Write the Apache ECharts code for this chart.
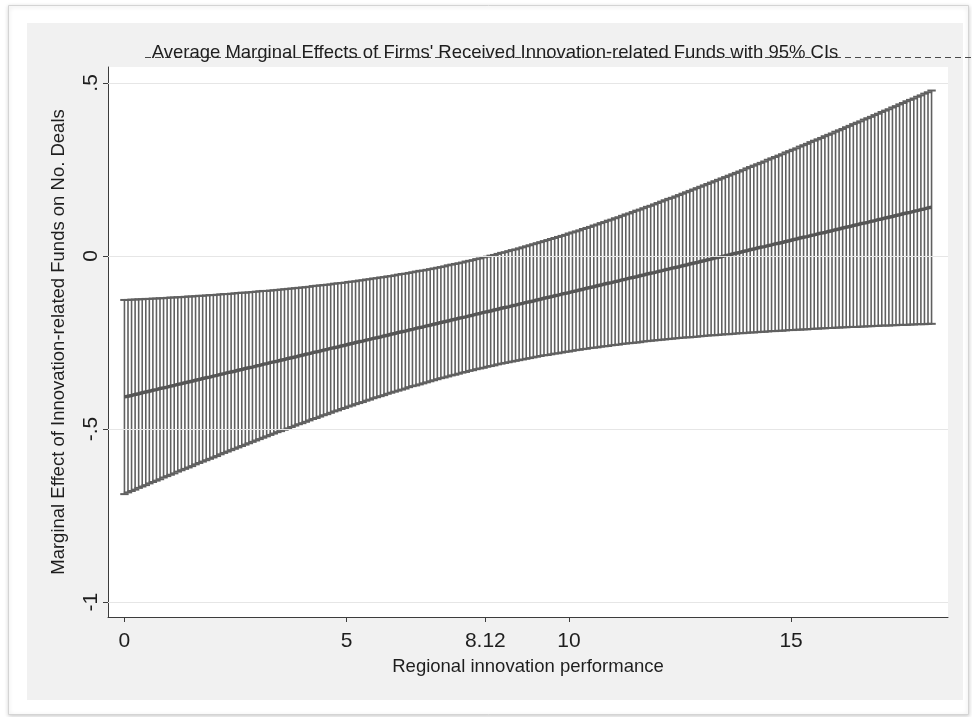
<!DOCTYPE html>
<html>
<head>
<meta charset="utf-8">
<title>Average Marginal Effects</title>
<script src="https://cdn.jsdelivr.net/npm/echarts@6/dist/echarts.min.js"></script>
<style>
  html, body { margin: 0; padding: 0; background: #ffffff; }
  #chart { width: 972px; height: 717px; }
</style>
</head>
<body>
<div id="chart"></div>
<script>
// Evaluation points of regional innovation performance
const xValues = [
  0,0.08,0.16,0.24,0.32,
  0.4,0.48,0.56,0.64,0.72,
  0.8,0.88,0.96,1.04,1.12,
  1.2,1.28,1.36,1.44,1.52,
  1.6,1.68,1.76,1.84,1.92,
  2,2.08,2.16,2.24,2.32,
  2.4,2.48,2.56,2.64,2.72,
  2.8,2.88,2.96,3.04,3.12,
  3.2,3.28,3.36,3.44,3.52,
  3.6,3.68,3.76,3.84,3.92,
  4,4.08,4.16,4.24,4.32,
  4.4,4.48,4.56,4.64,4.72,
  4.8,4.88,4.96,5.04,5.12,
  5.2,5.28,5.36,5.44,5.52,
  5.6,5.68,5.76,5.84,5.92,
  6,6.08,6.16,6.24,6.32,
  6.4,6.48,6.56,6.64,6.72,
  6.8,6.88,6.96,7.04,7.12,
  7.2,7.28,7.36,7.44,7.52,
  7.6,7.68,7.76,7.84,7.92,
  8,8.08,8.16,8.24,8.32,
  8.4,8.48,8.56,8.64,8.72,
  8.8,8.88,8.96,9.04,9.12,
  9.2,9.28,9.36,9.44,9.52,
  9.6,9.68,9.76,9.84,9.92,
  10,10.08,10.16,10.24,10.32,
  10.4,10.48,10.56,10.64,10.72,
  10.8,10.88,10.96,11.04,11.12,
  11.2,11.28,11.36,11.44,11.52,
  11.6,11.68,11.76,11.84,11.92,
  12,12.08,12.16,12.24,12.32,
  12.4,12.48,12.56,12.64,12.72,
  12.8,12.88,12.96,13.04,13.12,
  13.2,13.28,13.36,13.44,13.52,
  13.6,13.68,13.76,13.84,13.92,
  14,14.08,14.16,14.24,14.32,
  14.4,14.48,14.56,14.64,14.72,
  14.8,14.88,14.96,15.04,15.12,
  15.2,15.28,15.36,15.44,15.52,
  15.6,15.68,15.76,15.84,15.92,
  16,16.08,16.16,16.24,16.32,
  16.4,16.48,16.56,16.64,16.72,
  16.8,16.88,16.96,17.04,17.12,
  17.2,17.28,17.36,17.44,17.52,
  17.6,17.68,17.76,17.84,17.92,
  18,18.08,18.16
];

// Average marginal effect at each point
const margins = [
  -0.407,-0.405,-0.403,-0.400,-0.398,
  -0.395,-0.393,-0.391,-0.388,-0.386,
  -0.383,-0.381,-0.379,-0.376,-0.374,
  -0.371,-0.369,-0.366,-0.364,-0.362,
  -0.359,-0.357,-0.354,-0.352,-0.350,
  -0.347,-0.345,-0.342,-0.340,-0.337,
  -0.335,-0.333,-0.330,-0.328,-0.325,
  -0.323,-0.321,-0.318,-0.316,-0.313,
  -0.311,-0.308,-0.306,-0.304,-0.301,
  -0.299,-0.296,-0.294,-0.292,-0.289,
  -0.287,-0.284,-0.282,-0.279,-0.277,
  -0.275,-0.272,-0.270,-0.267,-0.265,
  -0.263,-0.260,-0.258,-0.255,-0.253,
  -0.250,-0.248,-0.246,-0.243,-0.241,
  -0.238,-0.236,-0.234,-0.231,-0.229,
  -0.226,-0.224,-0.221,-0.219,-0.217,
  -0.214,-0.212,-0.209,-0.207,-0.205,
  -0.202,-0.200,-0.197,-0.195,-0.192,
  -0.190,-0.188,-0.185,-0.183,-0.180,
  -0.178,-0.176,-0.173,-0.171,-0.168,
  -0.166,-0.163,-0.161,-0.159,-0.156,
  -0.154,-0.151,-0.149,-0.147,-0.144,
  -0.142,-0.139,-0.137,-0.134,-0.132,
  -0.130,-0.127,-0.125,-0.122,-0.120,
  -0.118,-0.115,-0.113,-0.110,-0.108,
  -0.106,-0.103,-0.101,-0.098,-0.096,
  -0.093,-0.091,-0.089,-0.086,-0.084,
  -0.081,-0.079,-0.077,-0.074,-0.072,
  -0.069,-0.067,-0.064,-0.062,-0.060,
  -0.057,-0.055,-0.052,-0.050,-0.048,
  -0.045,-0.043,-0.040,-0.038,-0.035,
  -0.033,-0.031,-0.028,-0.026,-0.023,
  -0.021,-0.019,-0.016,-0.014,-0.011,
  -0.009,-0.006,-0.004,-0.002,0.001,
  0.003,0.006,0.008,0.010,0.013,
  0.015,0.018,0.020,0.023,0.025,
  0.027,0.030,0.032,0.035,0.037,
  0.039,0.042,0.044,0.047,0.049,
  0.052,0.054,0.056,0.059,0.061,
  0.064,0.066,0.068,0.071,0.073,
  0.076,0.078,0.081,0.083,0.085,
  0.088,0.090,0.093,0.095,0.097,
  0.100,0.102,0.105,0.107,0.110,
  0.112,0.114,0.117,0.119,0.122,
  0.124,0.126,0.129,0.131,0.134,
  0.136,0.139,0.141
];

// Lower bound of the 95% confidence interval
const ciLow = [
  -0.688,-0.683,-0.679,-0.675,-0.670,
  -0.666,-0.662,-0.657,-0.653,-0.649,
  -0.645,-0.640,-0.636,-0.632,-0.628,
  -0.623,-0.619,-0.615,-0.611,-0.607,
  -0.602,-0.598,-0.594,-0.590,-0.586,
  -0.582,-0.578,-0.573,-0.569,-0.565,
  -0.561,-0.557,-0.553,-0.549,-0.545,
  -0.541,-0.537,-0.533,-0.529,-0.525,
  -0.521,-0.517,-0.513,-0.509,-0.506,
  -0.502,-0.498,-0.494,-0.490,-0.486,
  -0.483,-0.479,-0.475,-0.471,-0.468,
  -0.464,-0.460,-0.457,-0.453,-0.449,
  -0.446,-0.442,-0.439,-0.435,-0.432,
  -0.428,-0.425,-0.422,-0.418,-0.415,
  -0.411,-0.408,-0.405,-0.402,-0.398,
  -0.395,-0.392,-0.389,-0.386,-0.383,
  -0.379,-0.376,-0.374,-0.371,-0.368,
  -0.365,-0.362,-0.359,-0.356,-0.353,
  -0.351,-0.348,-0.345,-0.343,-0.340,
  -0.337,-0.335,-0.332,-0.330,-0.327,
  -0.325,-0.323,-0.320,-0.318,-0.316,
  -0.313,-0.311,-0.309,-0.307,-0.305,
  -0.303,-0.301,-0.299,-0.297,-0.295,
  -0.293,-0.291,-0.289,-0.287,-0.286,
  -0.284,-0.282,-0.281,-0.279,-0.277,
  -0.276,-0.274,-0.272,-0.271,-0.269,
  -0.268,-0.266,-0.265,-0.264,-0.262,
  -0.261,-0.260,-0.258,-0.257,-0.256,
  -0.254,-0.253,-0.252,-0.251,-0.250,
  -0.249,-0.247,-0.246,-0.245,-0.244,
  -0.243,-0.242,-0.241,-0.240,-0.239,
  -0.238,-0.237,-0.236,-0.235,-0.235,
  -0.234,-0.233,-0.232,-0.231,-0.230,
  -0.229,-0.229,-0.228,-0.227,-0.226,
  -0.226,-0.225,-0.224,-0.223,-0.223,
  -0.222,-0.221,-0.221,-0.220,-0.219,
  -0.219,-0.218,-0.217,-0.217,-0.216,
  -0.216,-0.215,-0.214,-0.214,-0.213,
  -0.213,-0.212,-0.212,-0.211,-0.210,
  -0.210,-0.209,-0.209,-0.208,-0.208,
  -0.207,-0.207,-0.206,-0.206,-0.205,
  -0.205,-0.205,-0.204,-0.204,-0.203,
  -0.203,-0.202,-0.202,-0.201,-0.201,
  -0.201,-0.200,-0.200,-0.199,-0.199,
  -0.199,-0.198,-0.198,-0.197,-0.197,
  -0.197,-0.196,-0.196
];

// Upper bound of the 95% confidence interval
const ciHigh = [
  -0.127,-0.127,-0.126,-0.126,-0.125,
  -0.125,-0.124,-0.124,-0.123,-0.123,
  -0.122,-0.122,-0.121,-0.120,-0.120,
  -0.119,-0.119,-0.118,-0.117,-0.117,
  -0.116,-0.115,-0.115,-0.114,-0.113,
  -0.113,-0.112,-0.111,-0.110,-0.110,
  -0.109,-0.108,-0.107,-0.106,-0.106,
  -0.105,-0.104,-0.103,-0.102,-0.101,
  -0.101,-0.100,-0.099,-0.098,-0.097,
  -0.096,-0.095,-0.094,-0.093,-0.092,
  -0.091,-0.090,-0.089,-0.087,-0.086,
  -0.085,-0.084,-0.083,-0.082,-0.080,
  -0.079,-0.078,-0.077,-0.075,-0.074,
  -0.073,-0.071,-0.070,-0.068,-0.067,
  -0.065,-0.064,-0.062,-0.061,-0.059,
  -0.058,-0.056,-0.054,-0.052,-0.051,
  -0.049,-0.047,-0.045,-0.043,-0.042,
  -0.040,-0.038,-0.036,-0.034,-0.032,
  -0.030,-0.027,-0.025,-0.023,-0.021,
  -0.019,-0.016,-0.014,-0.012,-0.009,
  -0.007,-0.004,-0.002,0.001,0.003,
  0.006,0.009,0.011,0.014,0.017,
  0.019,0.022,0.025,0.028,0.031,
  0.034,0.037,0.040,0.043,0.046,
  0.049,0.052,0.055,0.058,0.061,
  0.065,0.068,0.071,0.074,0.078,
  0.081,0.084,0.088,0.091,0.095,
  0.098,0.102,0.105,0.109,0.112,
  0.116,0.120,0.123,0.127,0.131,
  0.134,0.138,0.142,0.145,0.149,
  0.153,0.157,0.161,0.165,0.168,
  0.172,0.176,0.180,0.184,0.188,
  0.192,0.196,0.200,0.204,0.208,
  0.212,0.216,0.220,0.224,0.228,
  0.232,0.236,0.240,0.244,0.248,
  0.253,0.257,0.261,0.265,0.269,
  0.273,0.278,0.282,0.286,0.290,
  0.294,0.299,0.303,0.307,0.311,
  0.316,0.320,0.324,0.329,0.333,
  0.337,0.341,0.346,0.350,0.354,
  0.359,0.363,0.367,0.372,0.376,
  0.381,0.385,0.389,0.394,0.398,
  0.402,0.407,0.411,0.416,0.420,
  0.424,0.429,0.433,0.438,0.442,
  0.447,0.451,0.455,0.460,0.464,
  0.469,0.473,0.478
];

// Axis ticks and their printed labels
const xTicks = [0, 5, 8.12, 10, 15];
const xTickLabels = ['0', '5', '8.12', '10', '15'];
const yTicks = [-1, -0.5, 0, 0.5];
const yTickLabels = ['-1', '-.5', '0', '.5'];

const titleText = "Average Marginal Effects of Firms' Received Innovation-related Funds with 95% CIs";
const xTitle = 'Regional innovation performance';
const yTitle = 'Marginal Effect of Innovation-related Funds on No. Deals';

const FONT = "'Liberation Sans', Arial, Helvetica, sans-serif";
const INK = '#1e1e1e';
const AXIS = '#3c3c3c';
const SPIKE = '#606060';
const MID = '#555555';

const ciTable = xValues.map((x, i) => [x, ciLow[i], ciHigh[i]]);
const midTable = xValues.map((x, i) => [x, margins[i]]);

// Capped spike: vertical line between the bounds with short caps at both ends
function renderCappedSpike(params, api) {
  const x = api.value(0);
  const top = api.coord([x, api.value(2)]);
  const bot = api.coord([x, api.value(1)]);
  const hw = 4.2;
  const style = { stroke: SPIKE, lineWidth: 1.6 };
  const capStyle = { stroke: SPIKE, lineWidth: 2 };
  return {
    type: 'group',
    children: [
      { type: 'line', shape: { x1: top[0], y1: top[1], x2: bot[0], y2: bot[1] }, style },
      { type: 'line', shape: { x1: top[0] - hw, y1: top[1], x2: top[0] + hw, y2: top[1] }, style: capStyle },
      { type: 'line', shape: { x1: bot[0] - hw, y1: bot[1], x2: bot[0] + hw, y2: bot[1] }, style: capStyle }
    ]
  };
}

const chart = echarts.init(document.getElementById('chart'), null, { renderer: 'canvas' });

const option = {
  animation: false,
  backgroundColor: '#ffffff',
  textStyle: { fontFamily: FONT },
  graphic: [
    {
      type: 'rect', z: -30, silent: true,
      shape: { x: 8.5, y: 5.5, width: 960, height: 709 },
      style: { fill: '#ffffff', stroke: '#d4d4d4', lineWidth: 1,
               shadowBlur: 4, shadowColor: 'rgba(0,0,0,0.18)', shadowOffsetX: 0, shadowOffsetY: 1 }
    },
    {
      type: 'rect', z: -20, silent: true,
      shape: { x: 27, y: 23, width: 936, height: 677 },
      style: { fill: '#f1f1f1' }
    },
    {
      type: 'line', z: 10, silent: true,
      shape: { x1: 145, y1: 57.5, x2: 972, y2: 57.5 },
      style: { stroke: '#4a4a4a', lineWidth: 1, lineDash: [6, 4] }
    },
    {
      type: 'text', z: 11, silent: true,
      x: 495, y: 53,
      style: { text: titleText, fill: INK, font: '18.5px ' + FONT,
               textAlign: 'center', textVerticalAlign: 'middle' }
    }
  ],
  grid: {
    show: true, left: 108, right: 24, top: 67, bottom: 100,
    backgroundColor: '#ffffff', borderWidth: 0
  },
  xAxis: {
    type: 'value', min: -0.37, max: 18.53,
    name: xTitle, nameLocation: 'middle', nameGap: 40,
    nameTextStyle: { fontSize: 18.5, color: INK, fontFamily: FONT },
    axisLine: { show: true, onZero: false, lineStyle: { color: AXIS, width: 1 } },
    axisTick: { show: true, customValues: xTicks, length: 5, lineStyle: { color: AXIS, width: 1 } },
    axisLabel: {
      customValues: xTicks, fontSize: 21, color: INK, margin: 14, fontFamily: FONT,
      formatter: v => xTickLabels[xTicks.indexOf(v)]
    },
    splitLine: { show: false }
  },
  yAxis: {
    type: 'value', min: -1.043, max: 0.546,
    name: yTitle, nameLocation: 'middle', nameGap: 40, nameRotate: 90,
    nameTextStyle: { fontSize: 18.5, color: INK, fontFamily: FONT },
    axisLine: { show: true, onZero: false, lineStyle: { color: AXIS, width: 1 } },
    axisTick: { show: true, customValues: yTicks, length: 5, lineStyle: { color: AXIS, width: 1 } },
    axisLabel: {
      customValues: yTicks, fontSize: 21, color: INK, margin: 6, rotate: 90, fontFamily: FONT,
      formatter: v => yTickLabels[yTicks.indexOf(v)]
    },
    splitLine: { show: false }
  },
  series: [
    {
      // horizontal reference lines at the labelled y values
      type: 'line', data: [], z: 1, silent: true,
      markLine: {
        silent: true, symbol: 'none', label: { show: false },
        lineStyle: { color: '#e6e6e6', width: 1, type: 'solid' },
        data: yTicks.map(v => ({ yAxis: v }))
      }
    },
    {
      type: 'custom', z: 2, clip: false,
      renderItem: renderCappedSpike,
      encode: { x: 0, y: [1, 2] },
      data: ciTable
    },
    {
      type: 'line', z: 3, data: midTable, symbol: 'none', showSymbol: false,
      lineStyle: { color: MID, width: 3.5 }
    }
  ]
};

chart.setOption(option);
</script>
</body>
</html>
